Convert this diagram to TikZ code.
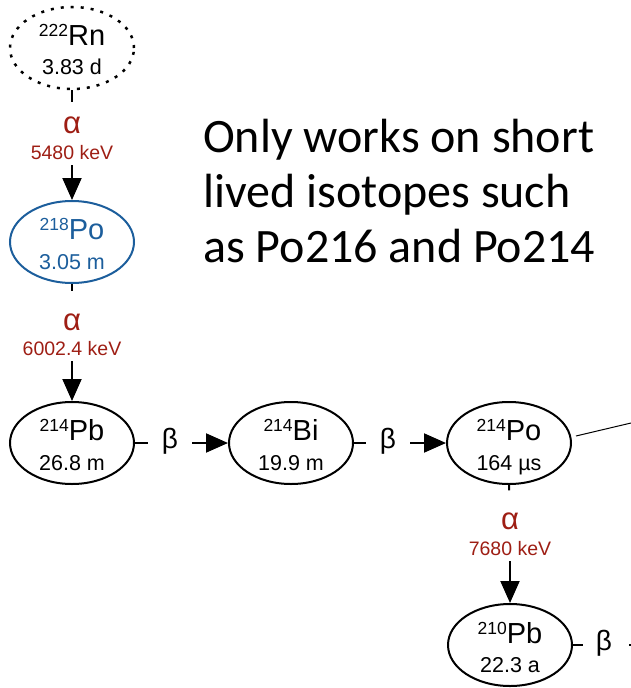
\documentclass[tikz,border=0pt]{standalone}
\usepackage{fontspec}
\setmainfont{Liberation Sans}
\newfontfamily\carlito{Carlito}
\usetikzlibrary{arrows.meta,shapes.geometric}
\definecolor{decayred}{RGB}{158,30,20}
\definecolor{poblue}{RGB}{28,94,156}
\newcommand{\isosym}[2]{\raisebox{9pt}{\fontsize{17.5}{17.5}\selectfont #1}{\fontsize{29}{29}\selectfont #2}}
\tikzset{
  iso/.style={ellipse, draw, line width=2pt, minimum width=124pt, minimum height=82pt, inner sep=0pt},
  symtxt/.style={anchor=base, inner sep=0pt},
  hltxt/.style={anchor=base, inner sep=0pt, font=\fontsize{21.5}{21.5}\selectfont},
  alab/.style={inner sep=0pt, text=decayred, font=\fontsize{31}{31}\selectfont},
  elab/.style={inner sep=0pt, text=decayred, font=\fontsize{19.5}{19.5}\selectfont},
  blab/.style={inner sep=0pt, font=\fontsize{28}{28}\selectfont},
  conn/.style={line width=2pt},
  arr/.style={line width=2pt, -{Triangle[length=22pt, width=19pt]}},
}
\begin{document}
\begin{tikzpicture}[x=1pt, y=-1pt]
\useasboundingbox (0,0) rectangle (631,688);
% nodes
\node[iso, dash pattern=on 3pt off 7pt, line width=2.5pt] (rn) at (72,48) {};
\node[symtxt] (rnS) at ([yshift=3pt]rn.center) {\isosym{222}{Rn}};
\node[hltxt] (rnH) at ([yshift=-26pt]rn.center) {3.83 d};

\node[iso, draw=poblue] (po218) at (72,242) {};
\node[symtxt, text=poblue] (po218S) at ([yshift=3pt]po218.center) {\isosym{218}{Po}};
\node[hltxt, text=poblue] (po218H) at ([yshift=-27pt]po218.center) {3.05 m};

\node[iso] (pb214) at (72,443) {};
\node[symtxt] (pb214S) at ([yshift=3pt]pb214.center) {\isosym{214}{Pb}};
\node[hltxt] (pb214H) at ([yshift=-27pt]pb214.center) {26.8 m};

\node[iso] (bi214) at (291,443) {};
\node[symtxt] (bi214S) at ([yshift=3pt]bi214.center) {\isosym{214}{Bi}};
\node[hltxt] (bi214H) at ([yshift=-27pt]bi214.center) {19.9 m};

\node[iso] (po214) at (509,443) {};
\node[symtxt] (po214S) at ([yshift=3pt]po214.center) {\isosym{214}{Po}};
\node[hltxt] (po214H) at ([yshift=-27pt]po214.center) {164 µs};

\node[iso] (pb210) at (510,645) {};
\node[symtxt] (pb210S) at ([yshift=2pt]pb210.center) {\isosym{210}{Pb}};
\node[hltxt] (pb210H) at ([yshift=-27pt]pb210.center) {22.3 a};

% decay labels
\node[alab] (a1) at (72,125) {α};
\node[elab] (e1) at (72,153) {5480 keV};
\node[alab] (a2) at (72,322) {α};
\node[elab] (e2) at (72,349) {6002.4 keV};
\node[alab] (a3) at (510,521) {α};
\node[elab] (e3) at (510,549) {7680 keV};

\node[blab] (b1) at (170,441) {β};
\node[blab] (b2) at (388,441) {β};
\node[blab] (b3) at (604,643) {β};

% connectors
\draw[conn, shorten >=14pt] (rn.south) -- (a1.north);
\draw[conn, shorten >=22pt] (po218.south) -- (a2.north);
\draw[conn, shorten >=22pt] (po214.south) -- (a3.north);
\draw[arr, shorten <=5pt] (e1.south) -- (po218.north);
\draw[arr, shorten <=5pt] (e2.south) -- (pb214.north);
\draw[arr, shorten <=5pt] (e3.south) -- (pb210.north);

\draw[conn] (pb214.east) -- (pb214.east -| 148,0);
\draw[arr] (b1.east |- pb214.east) ++(14,0) coordinate (s1) (s1) -- (bi214.west);
\draw[conn] (bi214.east) -- (bi214.east -| 366,0);
\draw[arr] (b2.east |- bi214.east) ++(14,0) coordinate (s2) (s2) -- (po214.west);
\draw[conn] (pb210.east) -- (pb210.east -| 583,0);
\coordinate (edge3) at (631,645);
\draw[conn] (b3.east |- pb210.east) ++(17,0) coordinate (s3) (s3) -- (edge3);
\coordinate (edge1) at (631,423);
\draw[line width=1pt] ([yshift=7pt]po214.east) ++(4,0) coordinate (s4) (s4) -- (edge1);

% text
\node[anchor=base west, inner sep=0pt, align=left, font=\carlito\fontsize{48}{55}\selectfont] (note) at (203,262) {Only works on short\\lived isotopes such\\as Po216 and Po214};
\end{tikzpicture}
\end{document}
